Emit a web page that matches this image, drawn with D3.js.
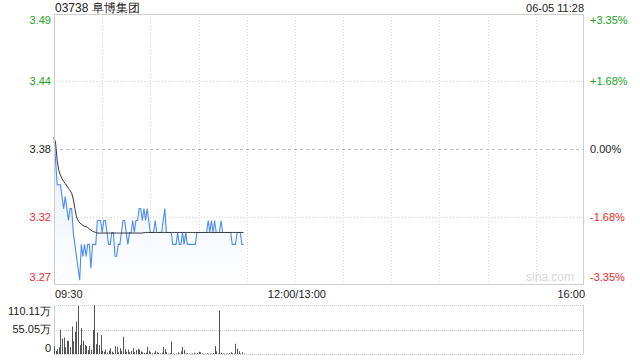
<!DOCTYPE html>
<html><head><meta charset="utf-8">
<script src="https://cdn.jsdelivr.net/npm/d3@7/dist/d3.min.js"></script>
<style>
html,body{margin:0;padding:0;background:#fff;}
svg{display:block;font-family:"Liberation Sans",Arial,sans-serif;}
</style></head>
<body><svg id="c" width="640" height="360"></svg>
<script>
const title = "03738 阜博集团";
const stamp = "06-05 11:28";
const prevClose = 3.38;
const pctRange = 0.0335;
const priceTickLabels = ["3.49","3.44","3.38","3.32","3.27"];
const pctTickLabels = ["+3.35%","+1.68%","0.00%","-1.68%","-3.35%"];
const pctTickValues = [0.0335,0.0168,0,-0.0168,-0.0335];
const timeLabels = ["09:30","12:00/13:00","16:00"];
const timeMinutes = [0,150,330];
const volTickLabels = ["110.11万","55.05万","0"];
const volTickValues = [110.11,55.05,0];
const volMax = 110.11;
// minute-by-minute price from 09:30 to 11:28
const price = [3.39,3.37,3.35,3.35,3.35,3.34,3.33,3.34,3.33,3.32,3.33,3.33,3.31,3.30,3.29,3.28,3.27,3.30,3.29,3.30,
3.29,3.30,3.30,3.28,3.30,3.30,3.30,3.32,3.32,3.32,3.31,3.32,3.32,3.31,3.30,3.30,3.31,3.31,3.29,3.29,
3.30,3.30,3.31,3.32,3.32,3.31,3.30,3.31,3.31,3.32,3.31,3.32,3.32,3.33,3.33,3.32,3.33,3.32,3.33,3.32,
3.31,3.31,3.31,3.32,3.31,3.31,3.31,3.31,3.32,3.33,3.31,3.31,3.31,3.31,3.30,3.30,3.30,3.31,3.30,3.30,
3.31,3.30,3.31,3.30,3.30,3.30,3.30,3.30,3.30,3.31,3.31,3.31,3.31,3.31,3.31,3.31,3.32,3.31,3.32,3.31,
3.32,3.31,3.31,3.31,3.32,3.31,3.31,3.31,3.31,3.31,3.31,3.30,3.30,3.30,3.31,3.31,3.31,3.30,3.30];
// average price line
const avgPrice = [3.39,3.385,3.37,3.362,3.358,3.355,3.353,3.351,3.349,3.347,3.345,3.343,3.338,3.330,3.323,3.320,3.318,3.317,3.316,3.315,
3.315,3.314,3.313,3.312,3.311,3.3105,3.310,3.3095,3.3095,3.3095,3.3095,3.3095,3.3095,3.3095,3.3095,3.3095,3.3095,3.3095,3.3095,3.3095,
3.3095,3.3095,3.3095,3.3095,3.3095,3.3095,3.3095,3.3095,3.3095,3.3095,3.3095,3.3095,3.3095,3.3095,3.3095,3.3095,3.3098,3.310,3.310,3.310,
3.310,3.310,3.310,3.310,3.310,3.310,3.310,3.310,3.310,3.310,3.310,3.310,3.310,3.310,3.310,3.310,3.310,3.310,3.310,3.310,
3.310,3.310,3.310,3.310,3.310,3.310,3.310,3.310,3.310,3.310,3.310,3.310,3.310,3.310,3.310,3.310,3.310,3.310,3.310,3.310,
3.310,3.310,3.310,3.310,3.310,3.310,3.310,3.310,3.310,3.310,3.310,3.310,3.310,3.310,3.310,3.310,3.310,3.310,3.310];
// volume in 万 shares
const volume = [18,7,11,15,55,35,37,15,30,29,16,62,29,50,73,108,20,58,30,20,
18,9,18,10,54,110,22,48,20,43,7,5,10,3,8,13,5,3,18,16,
4,13,7,39,11,5,10,4,7,13,4,9,12,10,6,4,2,3,16,7,
4,2,3,7,4,2,1,3,16,11,4,1,2,28,1,0.5,1,4,1,6,
16,9,1,2,1,0.5,1,3,1,2,5,4,1,0.5,1,2,0.5,1,1,2,
18,6,1,98,3,1,0.5,1,1,2,4,2,1,23,12,6,1,4,1];

const svg = d3.select("#c");
const L = 54, R = 584, T = 14, B = 284, VT = 305, VB = 354;
const x = d3.scaleLinear().domain([0,330]).range([L,R]);
const y = d3.scaleLinear().domain([prevClose*(1-pctRange), prevClose*(1+pctRange)]).range([B,T]);
const yv = d3.scaleLinear().domain([0,volMax]).range([VB,VT]);
const grid = "#d6d6d6";
const green = "#1aa31a", red = "#f02b2b";
const colFor = p => p > 0 ? green : (p < 0 ? red : "#222");

// gradient
const defs = svg.append("defs");
const lg = defs.append("linearGradient").attr("id","fillg").attr("x1",0).attr("y1",0).attr("x2",0).attr("y2",1);
lg.append("stop").attr("offset","0%").attr("stop-color","#dfe9fb");
lg.append("stop").attr("offset","100%").attr("stop-color","#ffffff");

// vertical grid lines every 30 min
const vgrid = d3.range(30,330,30);
svg.append("g").selectAll("line").data(vgrid).join("line")
  .attr("x1",d=>Math.round(x(d))+0.5).attr("x2",d=>Math.round(x(d))+0.5)
  .attr("y1",T).attr("y2",B).attr("stroke",grid).attr("stroke-dasharray","1,2");
// horizontal grid
svg.append("g").selectAll("line").data(pctTickValues.slice(1,4)).join("line")
  .attr("x1",L).attr("x2",R)
  .attr("y1",d=>Math.round(y(prevClose*(1+d)))+0.5).attr("y2",d=>Math.round(y(prevClose*(1+d)))+0.5)
  .attr("stroke",d=>d===0?"#bbb":grid).attr("stroke-dasharray",d=>d===0?"3,3":"1,2");

// watermark
svg.append("text").attr("x",R-10).attr("y",B-3).attr("text-anchor","end")
  .attr("font-size",12).attr("fill","#d8d8d8").text("sina.com");

// area + lines
const idx = price.map((_,i)=>i);
svg.append("path").datum(idx)
  .attr("d", d3.area().x(i=>x(i)).y0(B).y1(i=>y(price[i])))
  .attr("fill","url(#fillg)").attr("opacity",0.9);
svg.append("path").datum(idx)
  .attr("d", d3.line().x(i=>x(i)).y(i=>y(price[i])))
  .attr("fill","none").attr("stroke","#4b8cf5").attr("stroke-width",1.1);
svg.append("path").datum(idx)
  .attr("d", d3.line().x(i=>x(i)).y(i=>y(avgPrice[i])))
  .attr("fill","none").attr("stroke","#333").attr("stroke-width",1);

// border of price panel
svg.append("rect").attr("x",L+0.5).attr("y",T+0.5).attr("width",R-L-1).attr("height",B-T)
  .attr("fill","none").attr("stroke","#cfcfcf");

// price labels left / right
pctTickValues.forEach((p,k)=>{
  let yy = y(prevClose*(1+p));
  if (k===0) yy += 6; if (k===4) yy -= 7;
  svg.append("text").attr("x",51).attr("y",yy).attr("dy","0.35em").attr("text-anchor","end")
    .attr("font-size",11).attr("fill",colFor(p)).text(priceTickLabels[k]);
  svg.append("text").attr("x",590).attr("y",yy).attr("dy","0.35em").attr("text-anchor","start")
    .attr("font-size",11).attr("fill",colFor(p)).text(pctTickLabels[k]);
});

// title / stamp
svg.append("text").attr("x",55).attr("y",12).attr("font-size",12).attr("fill","#222").text(title);
svg.append("text").attr("x",584).attr("y",12).attr("text-anchor","end").attr("font-size",11).attr("fill","#222").text(stamp);

// time labels
timeMinutes.forEach((m,k)=>{
  const anchor = k===0?"start":(k===timeMinutes.length-1?"end":"middle");
  const xx = k===0? x(m)+1 : (k===timeMinutes.length-1? x(m)+1 : x(m)+2);
  svg.append("text").attr("x",xx).attr("y",294).attr("dy","0.35em").attr("text-anchor",anchor)
    .attr("font-size",11).attr("fill","#222").text(timeLabels[k]);
});

// volume panel grid
volTickValues.forEach(v=>{
  svg.append("line").attr("x1",L).attr("x2",R)
    .attr("y1",Math.round(yv(v))+0.5).attr("y2",Math.round(yv(v))+0.5)
    .attr("stroke","#cfcfcf").attr("stroke-dasharray","1,1");
});
svg.append("line").attr("x1",L+0.5).attr("x2",L+0.5).attr("y1",VT).attr("y2",VB).attr("stroke","#cfcfcf");
svg.append("line").attr("x1",R-0.5).attr("x2",R-0.5).attr("y1",VT).attr("y2",VB).attr("stroke","#cfcfcf");

// volume bars
svg.append("g").selectAll("rect").data(volume).join("rect")
  .attr("x",(d,i)=>Math.round(x(i)))
  .attr("width",1)
  .attr("y",d=>yv(d))
  .attr("height",d=>Math.max(0.5,VB-yv(d)))
  .attr("fill","#555");

// volume labels
volTickValues.forEach((v,k)=>{
  let yy = yv(v); if (k===0) yy += 6; if (k===2) yy -= 6;
  svg.append("text").attr("x",51).attr("y",yy).attr("dy","0.35em").attr("text-anchor","end")
    .attr("font-size",11).attr("fill","#222").text(volTickLabels[k]);
});
</script></body></html>
